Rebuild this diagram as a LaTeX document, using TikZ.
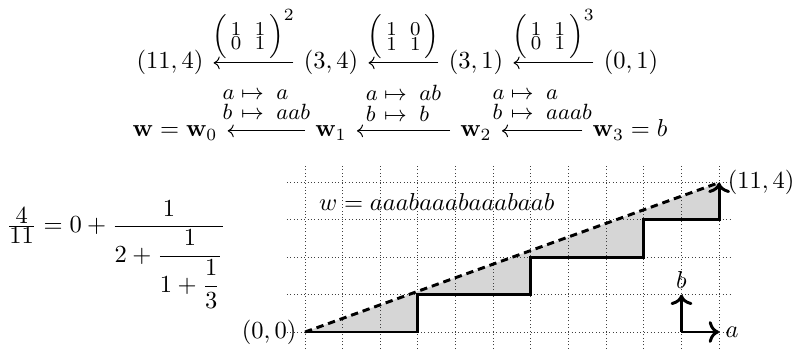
\documentclass[tikz,border=0pt]{standalone}
\usepackage{amsmath}
\usetikzlibrary{arrows.meta}
\newcommand{\smat}[4]{\Bigl(\mskip3mu\vcenter{\footnotesize\baselineskip=5.9pt\lineskiplimit=-\maxdimen\lineskip=0pt\halign{\hfil##\hfil&\hspace{5.5pt}\hfil##\hfil\cr #1&#2\cr #3&#4\cr}}\mskip3mu\Bigr)}
\newcommand{\subst}[2]{{\renewcommand{\arraystretch}{0.62}$\begin{array}{@{}l@{\;\mapsto\;\;}l@{}} a & #1\\ b & #2\end{array}$}}
\begin{document}
\begin{tikzpicture}[x=0.408pt,y=-0.408pt,
  term/.style={inner sep=0pt, anchor=base},
  cdarrow/.style={-{Computer Modern Rightarrow}, line width=0.4pt, shorten <=4pt, shorten >=4pt},
  matlabel/.style={midway, inner sep=0pt, anchor=base, yshift=8.3pt},
  maplabel/.style={midway, inner sep=0pt, anchor=base, yshift=7.9pt, font=\small},
  gridline/.style={densely dotted, line width=0.4pt, black!75},
  pathline/.style={line width=1.2pt},
  dashline/.style={line width=1.2pt, dash pattern=on 3pt off 2pt},
  areafill/.style={fill=black!16}]
\useasboundingbox (0,0) rectangle (796,349);

% top row
\node[term] (p0) at (170,69) {$(11,4)$};
\node[term] (p1) at (331,69) {$(3,4)$};
\node[term] (p2) at (476,69) {$(3,1)$};
\node[term] (p3) at (631,69) {$(0,1)$};
\draw[cdarrow] (p1.west) -- (p0.east) node[matlabel] {$\smat1101^{2}$};
\draw[cdarrow] (p2.west) -- (p1.east) node[matlabel] {$\smat1011$};
\draw[cdarrow] (p3.west) -- (p2.east) node[matlabel] {$\smat1101^{3}$};

% bottom row
\node[term] (w0) at (175,137) {$\mathbf{w}=\mathbf{w}_0$};
\node[term] (w1) at (331,137) {$\mathbf{w}_1$};
\node[term] (w2) at (476,137) {$\mathbf{w}_2$};
\node[term] (w3) at (630,137) {$\mathbf{w}_3=b$};
\draw[cdarrow] ([yshift=2.5pt]w1.base west) -- ([yshift=2.5pt]w0.base east)
  node[maplabel] {\subst{a}{aab}};
\draw[cdarrow] ([yshift=2.5pt]w2.base west) -- ([yshift=2.5pt]w1.base east)
  node[maplabel] {\subst{ab}{b}};
\draw[cdarrow] ([yshift=2.5pt]w3.base west) -- ([yshift=2.5pt]w2.base east)
  node[maplabel] {\subst{a}{aaab}};

% continued fraction
\node[inner sep=0pt, anchor=base west] (cf) at (6,232.8)
  {$\frac{\textstyle 4}{\textstyle 11} = 0 + \dfrac{1}{2+\dfrac{1}{1+\dfrac{1}{3}}}$};

% lattice path
\begin{scope}[shift={(305,332)}, x=15.36pt, y=15.24pt]
  \fill[areafill] (0,0) -- (3,0) -- (3,1) -- (6,1) -- (6,2) -- (9,2) -- (9,3) -- (11,3) -- (11,4) -- cycle;
  \draw[gridline, step={(1,1)}] (-0.48,-0.45) grid (11.32,4.45);
  \coordinate (o) at (0,0);
  \coordinate (e) at (11,4);
  \coordinate (ax) at (10,0);
  \coordinate (axa) at (11,0);
  \coordinate (axb) at (10,1);
  \draw[dashline] (o) -- (e);
  \draw[pathline, ->] (o) -- (3,0) -- (3,1) -- (6,1) -- (6,2) -- (9,2) -- (9,3) -- (11,3) -- (e);
  \draw[pathline, ->] (ax) -- (axa);
  \draw[pathline, ->] (ax) -- (axb);
  \node[anchor=east] (ol) at (o) {$(0,0)$};
  \node[anchor=west] (el) at (e) {$(11,4)$};
  \node[anchor=west, inner sep=2.5pt] (al) at (axa) {$a$};
  \node[anchor=south, inner sep=2.5pt] (bl) at (axb) {$b$};
  \node (wl) at (3.5,3.47) {$w = aaabaaabaaabaab$};
\end{scope}
\end{tikzpicture}
\end{document}
